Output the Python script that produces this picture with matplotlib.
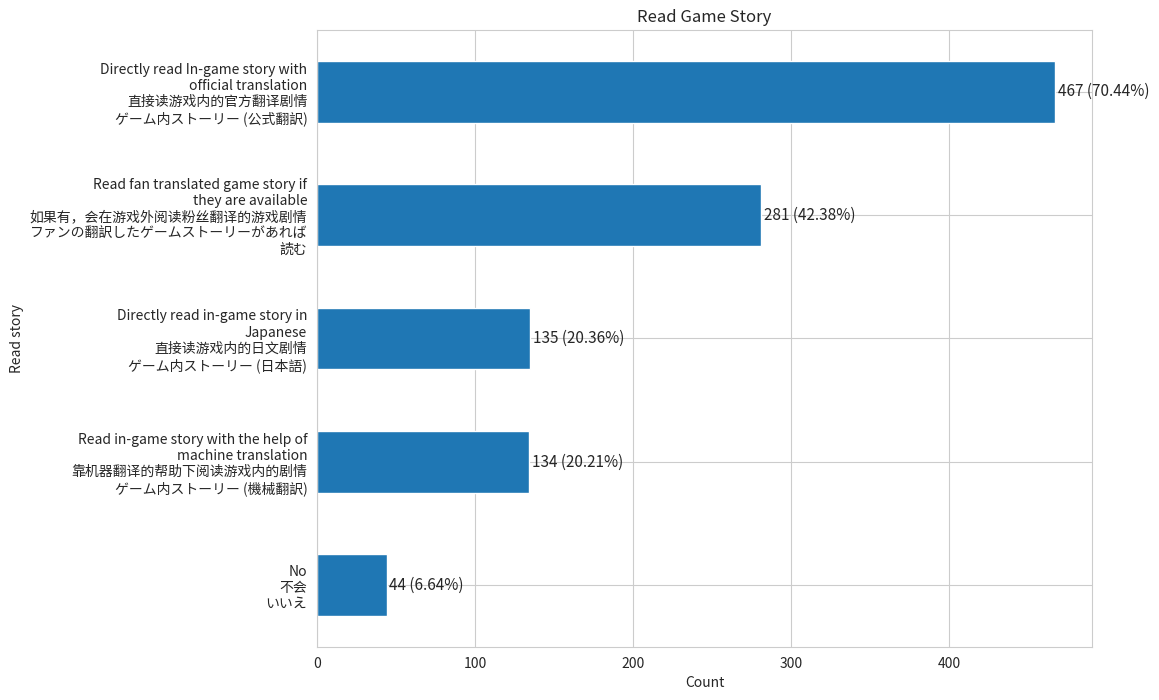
import matplotlib
matplotlib.use("Agg")
import matplotlib.pyplot as plt
import seaborn as sns

sns.set_style("whitegrid")
plt.rcParams['font.family'] = ['Noto Sans CJK SC', 'DejaVu Sans']

categories = [
    "No\n不会\nいいえ",
    "Read in-game story with the help of\nmachine translation\n靠机器翻译的帮助下阅读游戏内的剧情\nゲーム内ストーリー (機械翻訳)",
    "Directly read in-game story in\nJapanese\n直接读游戏内的日文剧情\nゲーム内ストーリー (日本語)",
    "Read fan translated game story if\nthey are available\n如果有，会在游戏外阅读粉丝翻译的游戏剧情\nファンの翻訳したゲームストーリーがあれば\n読む",
    "Directly read In-game story with\nofficial translation\n直接读游戏内的官方翻译剧情\nゲーム内ストーリー (公式翻訳)",
]
counts = [44, 134, 135, 281, 467]
percents = [6.64, 20.21, 20.36, 42.38, 70.44]

fig = plt.figure(figsize=(11.59, 7.0), dpi=100)
ax = fig.add_axes([317/1159, 1-647/700, (1092-317)/1159, (647-30)/700])

ypos = list(range(len(categories)))
bars = ax.barh(ypos, counts, height=0.5, color="#1f77b4")
ax.set_yticks(ypos)
ax.set_yticklabels(categories, fontsize=10)
ax.set_ylim(-0.5, len(categories) - 0.5)
ax.tick_params(axis='x', labelsize=10)
labels = [f"{c} ({p:.2f}%)" for c, p in zip(counts, percents)]
ax.bar_label(bars, labels=labels, padding=2, fontsize=11)
ax.set_xlabel("Count", fontsize=10)
ax.set_ylabel("Read story", fontsize=10)
ax.set_title("Read Game Story", fontsize=12)

fig.savefig("out.png", dpi=100)
